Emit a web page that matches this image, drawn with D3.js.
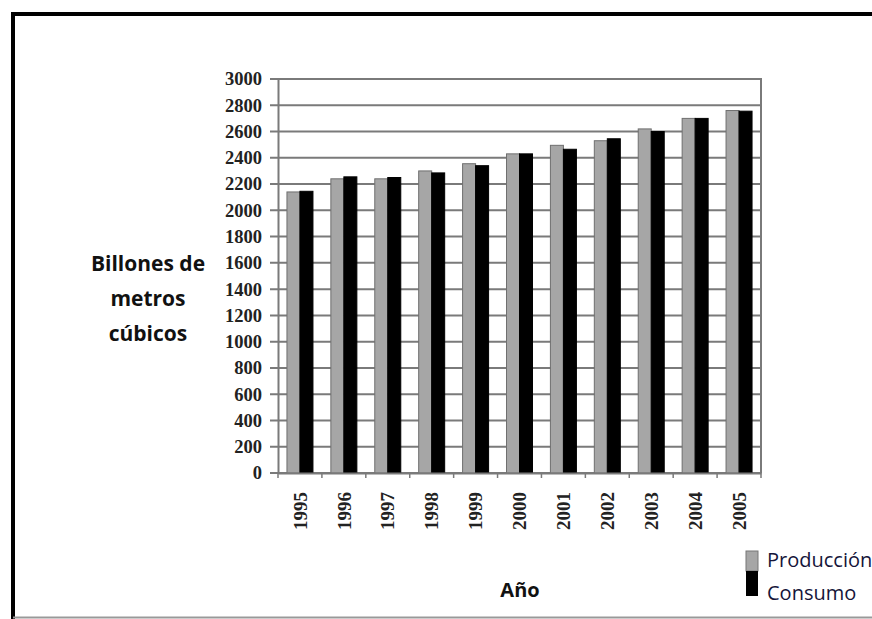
<!DOCTYPE html>
<html><head><meta charset="utf-8">
<script src="https://cdn.jsdelivr.net/npm/d3@7"></script>
<style>body{margin:0;background:#fff}svg{display:block}</style>
</head><body>
<svg id="c" width="872" height="619"></svg>
<script>
const years = ["1995","1996","1997","1998","1999","2000","2001","2002","2003","2004","2005"];
const produccion = [2140, 2240, 2240, 2300, 2355, 2430, 2495, 2530, 2620, 2700, 2760];
const consumo    = [2145, 2255, 2250, 2285, 2340, 2430, 2465, 2545, 2600, 2700, 2755];
const yTicks = [0,200,400,600,800,1000,1200,1400,1600,1800,2000,2200,2400,2600,2800,3000];
const seriesNames = ["Producción","Consumo"];
const seriesColors = ["#a6a6a6","#000000"];

(function(){
const svg = d3.select("#c");
// frame
svg.append("line").attr("x1",13).attr("y1",12).attr("x2",13).attr("y2",619).attr("stroke","#000").attr("stroke-width",4);
svg.append("line").attr("x1",11).attr("y1",14).attr("x2",872).attr("y2",14).attr("stroke","#000").attr("stroke-width",4);
svg.append("line").attr("x1",13).attr("y1",617.5).attr("x2",872).attr("y2",617.5).attr("stroke","#999").attr("stroke-width",2);

const pLeft=278, pRight=761, pTop=79, pBottom=473;
const x = d3.scaleBand().domain(years).range([pLeft,pRight]);
const y = d3.scaleLinear().domain([0,3000]).range([pBottom,pTop]);
const xs = d3.scaleBand().domain(seriesNames).range([0,26]);

// gridlines
svg.append("g").selectAll("line").data(yTicks).join("line")
  .attr("x1",270).attr("x2",pRight).attr("y1",d=>y(d)).attr("y2",d=>y(d))
  .attr("stroke","#7a7a7a").attr("stroke-width",2);
// right border
svg.append("line").attr("x1",pRight).attr("x2",pRight).attr("y1",pTop-1).attr("y2",pBottom)
  .attr("stroke","#7a7a7a").attr("stroke-width",2);

// bars
const data = [produccion, consumo];
data.forEach((vals,si)=>{
  svg.append("g").selectAll("rect").data(years).join("rect")
    .attr("x",(d)=>x(d)+x.bandwidth()/2-13+xs(seriesNames[si]))
    .attr("width",xs.bandwidth())
    .attr("y",(d,i)=>y(vals[i]))
    .attr("height",(d,i)=>pBottom-y(vals[i]))
    .attr("fill",seriesColors[si])
    .attr("stroke", si===0?"#6f6f6f":"#000").attr("stroke-width",1);
});

// y axis
const yAxis = d3.axisLeft(y).tickValues(yTicks).tickFormat(d3.format("d")).tickSize(0).tickPadding(16);
const gy = svg.append("g").attr("transform",`translate(${pLeft},0)`).call(yAxis);
gy.select(".domain").attr("stroke","#7a7a7a").attr("stroke-width",2);
gy.selectAll("text").attr("font-family","'Liberation Serif',serif").attr("font-weight","bold")
  .attr("font-size",18.5).attr("fill","#222");

// x axis
const xAxis = d3.axisBottom(x).tickSize(0).tickPadding(0);
const gx = svg.append("g").attr("transform",`translate(0,${pBottom})`).call(xAxis);
gx.select(".domain").attr("stroke","#7a7a7a").attr("stroke-width",2);
gx.selectAll("text").attr("font-family","'Liberation Serif',serif").attr("font-weight","bold")
  .attr("font-size",19).attr("fill","#222")
  .attr("text-anchor","end").attr("dy","0.35em")
  .attr("transform","translate(0,19) rotate(-90)");
// boundary ticks
svg.append("g").selectAll("line").data(years.concat(["end"])).join("line")
  .attr("x1",(d,i)=>pLeft+i*x.step()).attr("x2",(d,i)=>pLeft+i*x.step())
  .attr("y1",pBottom).attr("y2",pBottom+5).attr("stroke","#7a7a7a").attr("stroke-width",1.5);

// titles
const sans = "'Open Sans','Liberation Sans',sans-serif";
const yt = svg.append("text").attr("font-family",sans).attr("font-weight","bold").attr("font-size",21)
  .attr("fill","#111").attr("text-anchor","middle");
[["Billones de",271],["metros",306],["cúbicos",341]].forEach(([t,yy])=>{
  yt.append("tspan").attr("x",148).attr("y",yy).text(t);
});
svg.append("text").attr("x",520).attr("y",597).attr("font-family",sans).attr("font-weight","bold")
  .attr("font-size",20).attr("fill","#111").attr("text-anchor","middle").text("Año");

// legend
const lg = svg.append("g");
lg.append("rect").attr("x",746).attr("y",551).attr("width",12).attr("height",20).attr("fill",seriesColors[0]).attr("stroke","#777");
lg.append("rect").attr("x",746).attr("y",571).attr("width",12).attr("height",25).attr("fill",seriesColors[1]);
lg.append("text").attr("x",767).attr("y",567).attr("font-family",sans).attr("font-size",20).attr("fill","#15153a").text(seriesNames[0]);
lg.append("text").attr("x",767).attr("y",600).attr("font-family",sans).attr("font-size",20).attr("fill","#15153a").text(seriesNames[1]);
})();
</script>
</body></html>
